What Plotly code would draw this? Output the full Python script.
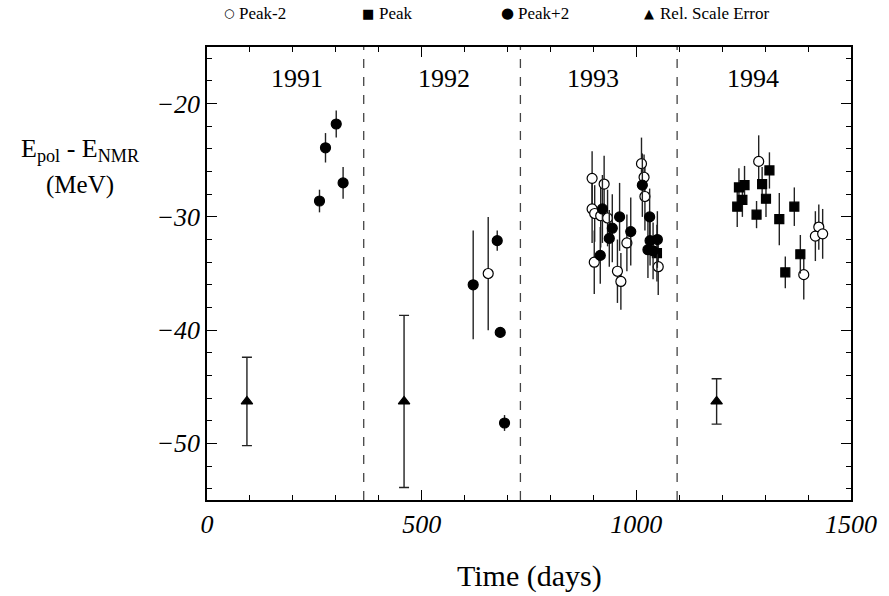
import plotly.graph_objects as go

# ---- data ----
pm2_day = [655, 897, 925, 897, 903, 917, 933, 902, 956, 964, 978, 1012, 1018, 1020, 1051,
           1285, 1425, 1417, 1434, 1390]
pm2_val = [-35.0, -26.6, -27.1, -29.3, -29.7, -29.9, -30.1, -34.0, -34.8, -35.7, -32.3, -25.3, -26.5, -28.2, -34.4,
           -25.1, -30.9, -31.7, -31.5, -35.1]
pm2_err = [5.0, 2.4, 2.5, 3.0, 2.5, 2.8, 2.5, 2.8, 2.8, 2.5, 2.5, 2.3, 2.0, 3.0, 2.5,
           2.3, 2.0, 2.2, 2.2, 2.2]

pk_day = [1048, 1235, 1239, 1252, 1247, 1280, 1293, 1310, 1302, 1333, 1368, 1382, 1347]
pk_val = [-33.2, -29.1, -27.4, -27.2, -28.5, -29.8, -27.1, -25.9, -28.4, -30.2, -29.1, -33.3, -34.9]
pk_err = [2.5, 1.8, 1.7, 1.7, 1.5, 1.2, 1.5, 1.6, 1.6, 2.3, 1.7, 1.7, 1.4]

pp2_day = [262, 276, 301, 317, 620, 676, 683, 693,
           921, 944, 937, 916, 961, 987, 1014, 1031, 1032, 1049, 1027, 1039]
pp2_val = [-28.6, -23.9, -21.8, -27.0, -36.0, -32.1, -40.2, -48.2,
           -29.3, -31.0, -31.9, -33.4, -30.0, -31.3, -27.2, -30.0, -32.1, -32.0, -32.9, -33.0]
pp2_err = [1.0, 1.3, 1.2, 1.4, 4.8, 0.9, 0.3, 0.7,
           3.0, 3.0, 2.5, 2.5, 3.0, 3.0, 2.8, 2.5, 2.2, 2.5, 2.5, 2.5]

rse_day = [93, 459, 1187]
rse_val = [-46.3, -46.3, -46.3]
rse_err = [3.9, 7.6, 2.0]

year_bounds = [365, 730, 1095]
year_labels = ["1991", "1992", "1993", "1994"]
year_label_pos = [210, 551, 900, 1271]
year_label_y = -17.8

x_ticks = [0, 500, 1000, 1500]
y_ticks = [-20, -30, -40, -50]

legend_glyphs = ["○", "■", "●", "▲"]
legend_glyph_size = [12, 13, 15, 13]
legend_names = ["Peak-2", "Peak", "Peak+2", "Rel. Scale Error"]
legend_glyph_px = [229, 369, 510, 652]
legend_text_px = [237, 378, 518, 662]

SERIF = "Liberation Serif"

fig = go.Figure()

def add(x, y, e, symbol, size, cap, name, fill="black"):
    fig.add_trace(go.Scatter(
        x=x, y=y, mode="markers", name=name, showlegend=False,
        marker=dict(symbol=symbol, size=size, color=fill,
                    line=dict(color="black", width=1.2)),
        error_y=dict(type="data", array=e, visible=True, color="#222222",
                     thickness=1.4, width=cap),
        cliponaxis=False,
    ))

add(pm2_day, pm2_val, pm2_err, "circle", 10, 0, "Peak-2", fill="white")
add(pk_day, pk_val, pk_err, "square", 9, 0, "Peak")
add(pp2_day, pp2_val, pp2_err, "circle", 10, 0, "Peak+2")
add(rse_day, rse_val, rse_err, "triangle-up", 10, 5, "Rel. Scale Error")

for b in year_bounds:
    fig.add_shape(type="line", x0=b, x1=b, y0=0, y1=1, xref="x", yref="paper",
                  line=dict(color="#444444", width=1.3, dash="dash"), layer="below")

for lab, xp in zip(year_labels, year_label_pos):
    fig.add_annotation(x=xp, y=year_label_y, text=lab, showarrow=False,
                       xanchor="center", yanchor="middle",
                       font=dict(family=SERIF, size=26, color="black"))

# legend row across the top
ly = 1 + (47 - 13) / 453
for g, gs, lab, gx, tx in zip(legend_glyphs, legend_glyph_size, legend_names,
                              legend_glyph_px, legend_text_px):
    fig.add_annotation(x=(gx - 207) / 649, y=ly, xref="paper", yref="paper",
                       text=g, showarrow=False, xanchor="center", yanchor="middle",
                       font=dict(family="DejaVu Sans", size=gs, color="black"))
    fig.add_annotation(x=(tx - 207) / 649, y=ly, xref="paper", yref="paper",
                       text=lab, showarrow=False, xanchor="left", yanchor="middle",
                       font=dict(family=SERIF, size=17, color="black"))

# y-axis title
fig.add_annotation(x=(80 - 207) / 649, y=1 - (150 - 47) / 453, xref="paper", yref="paper",
                   text="E<sub>pol</sub> - E<sub>NMR</sub>", showarrow=False,
                   xanchor="center", yanchor="middle",
                   font=dict(family=SERIF, size=26, color="black"))
fig.add_annotation(x=(79 - 207) / 649, y=1 - (185 - 47) / 453, xref="paper", yref="paper",
                   text="(MeV)", showarrow=False,
                   xanchor="center", yanchor="middle",
                   font=dict(family=SERIF, size=25, color="black"))
# x-axis title
fig.add_annotation(x=0.5, y=-(576 - 500) / 453, xref="paper", yref="paper",
                   text="Time (days)", showarrow=False,
                   xanchor="center", yanchor="middle",
                   font=dict(family=SERIF, size=30, color="black"))

axis_common = dict(
    showgrid=False, zeroline=False, showline=True, linecolor="black", linewidth=1.5,
    mirror="ticks", ticks="inside", ticklen=10, tickwidth=1.3, tickcolor="black",
    tickfont=dict(family=SERIF, size=26, color="black", style="italic"),
)

fig.update_xaxes(range=[0, 1500], tickvals=x_ticks,
                 minor=dict(dtick=100, ticks="inside", ticklen=5, tickwidth=1.2, tickcolor="black"),
                 **axis_common)
fig.update_yaxes(range=[-55, -15], tickvals=y_ticks,
                 minor=dict(dtick=2, ticks="inside", ticklen=5, tickwidth=1.2, tickcolor="black"),
                 **axis_common)

fig.update_layout(
    width=889, height=596,
    margin=dict(l=207, r=33, t=47, b=96),
    paper_bgcolor="white", plot_bgcolor="white",
    showlegend=False,
)

fig.write_html("out.html")
